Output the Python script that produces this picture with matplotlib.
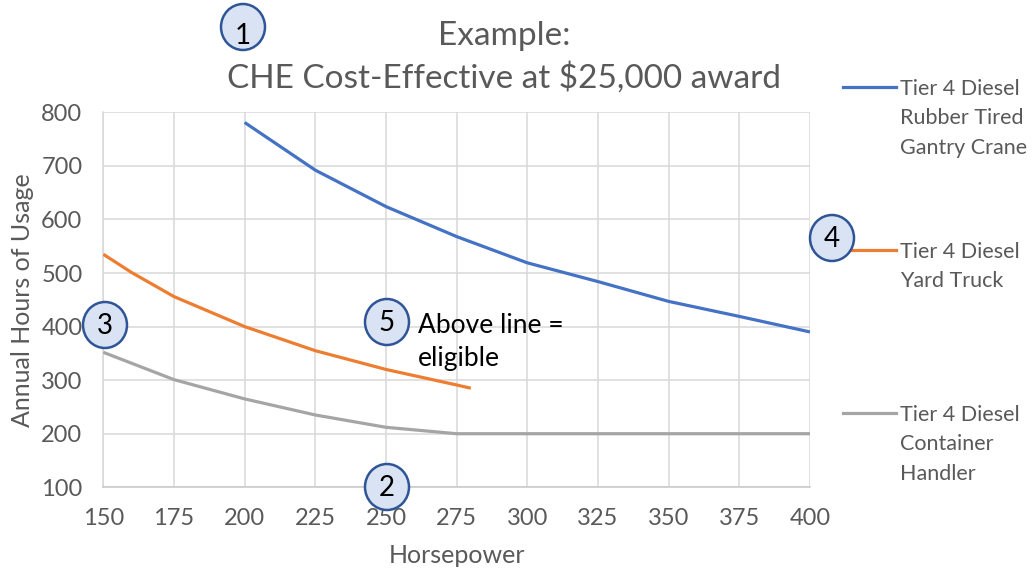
import matplotlib
matplotlib.use("Agg")
import matplotlib.pyplot as plt
from matplotlib.patches import Ellipse
from matplotlib.lines import Line2D

# ---------------- data ----------------
hp_crane = [200, 225, 250, 275, 300, 325, 350, 375, 400]
hours_crane = [781, 692, 624, 568, 519, 484, 447, 419, 390]

hp_truck = [150, 160, 175, 200, 225, 250, 275, 280]
hours_truck = [535, 501, 456, 400, 355, 320, 291, 285]

hp_handler = [150, 175, 200, 225, 250, 275, 300, 325, 350, 375, 400]
hours_handler = [352, 301, 265, 235, 212, 200, 200, 200, 200, 200, 200]

series_labels = ["Tier 4 Diesel\nRubber Tired\nGantry Crane",
                 "Tier 4 Diesel\nYard Truck",
                 "Tier 4 Diesel\nContainer\nHandler"]
series_colors = ["#4472C4", "#ED7D31", "#A5A5A5"]

x_ticks = [150, 175, 200, 225, 250, 275, 300, 325, 350, 375, 400]
y_ticks = [100, 200, 300, 400, 500, 600, 700, 800]

title_lines = ["Example:", "CHE Cost-Effective at $25,000 award"]
x_label = "Horsepower"
y_label = "Annual Hours of Usage"
note_text = "Above line =\neligible"
badge_numbers = ["1", "2", "3", "4", "5"]

# ---------------- figure ----------------
W, H = 1035, 570
plt.rcParams['font.family'] = ['Lato', 'DejaVu Sans']
fig = plt.figure(figsize=(W / 100, H / 100), dpi=100)
fig.patch.set_facecolor("white")


def fx(x):
    return x / W


def fy(y):
    return 1 - y / H


TXT = "#595959"
GRID = "#D9D9D9"

ax = fig.add_axes([fx(103.3), fy(487.3), (810 - 103.3) / W, (487.3 - 112.3) / H])
for xs, ys, c in zip([hp_crane, hp_truck, hp_handler],
                     [hours_crane, hours_truck, hours_handler], series_colors):
    ax.plot(xs, ys, color=c, lw=2.3, solid_capstyle='butt', zorder=3)

ax.set_xlim(150, 400)
ax.set_ylim(100, 800)
ax.set_xticks(x_ticks)
ax.set_yticks(y_ticks)
ax.grid(True, color=GRID, lw=1.1, zorder=0)
ax.set_axisbelow(True)
for s in ax.spines.values():
    s.set_visible(False)
ax.spines['left'].set_visible(True)
ax.spines['left'].set_color(GRID)
ax.spines['left'].set_linewidth(1.1)
ax.spines['bottom'].set_visible(True)
ax.spines['bottom'].set_color("#C8C8C8")
ax.spines['bottom'].set_linewidth(1.1)
ax.tick_params(axis='both', length=0, labelsize=17, labelcolor=TXT)
ax.tick_params(axis='x', pad=15)
ax.tick_params(axis='y', pad=15)

# axis labels
fig.text(fx(457), fy(563), x_label, ha='center', va='baseline', fontsize=18, color=TXT)
fig.text(fx(23), fy(300), y_label, ha='center', va='center', rotation=90,
         fontsize=18, color=TXT)

# title
fig.text(fx(504), fy(45), title_lines[0], ha='center', va='baseline', fontsize=24, color=TXT)
fig.text(fx(504), fy(88), title_lines[1], ha='center', va='baseline', fontsize=24, color=TXT)

# legend (manual)
legend_line_y = [87, 250, 413]
for lab, c, ly in zip(series_labels, series_colors, legend_line_y):
    fig.add_artist(Line2D([fx(843), fx(896)], [fy(ly), fy(ly)], color=c, lw=2.3,
                          transform=fig.transFigure))
    for i, part in enumerate(lab.split("\n")):
        fig.text(fx(900), fy(ly + 8 + 29.3 * i), part, ha='left', va='baseline',
                 fontsize=15.5, color=TXT)

# note text
for i, part in enumerate(note_text.split("\n")):
    fig.text(fx(418), fy(333 + 33.4 * i), part, ha='left', va='baseline',
             fontsize=19, color="black")

# numbered badges
badge_centers = [(243, 27), (387, 487), (105, 325), (832, 238), (387, 322)]
badge_text_y = [36, 488, 326, 239, 323]
for num, (cx, cy), ty in zip(badge_numbers, badge_centers, badge_text_y):
    e = Ellipse((fx(cx), fy(cy)), 44 / W, 46 / H, transform=fig.transFigure,
                facecolor="#DAE3F3", edgecolor="#2F5597", lw=1.8, zorder=10)
    fig.add_artist(e)
    fig.text(fx(cx), fy(ty), num, ha='center', va='center', fontsize=20,
             color="black", zorder=11)

fig.savefig("out.png", dpi=100)
